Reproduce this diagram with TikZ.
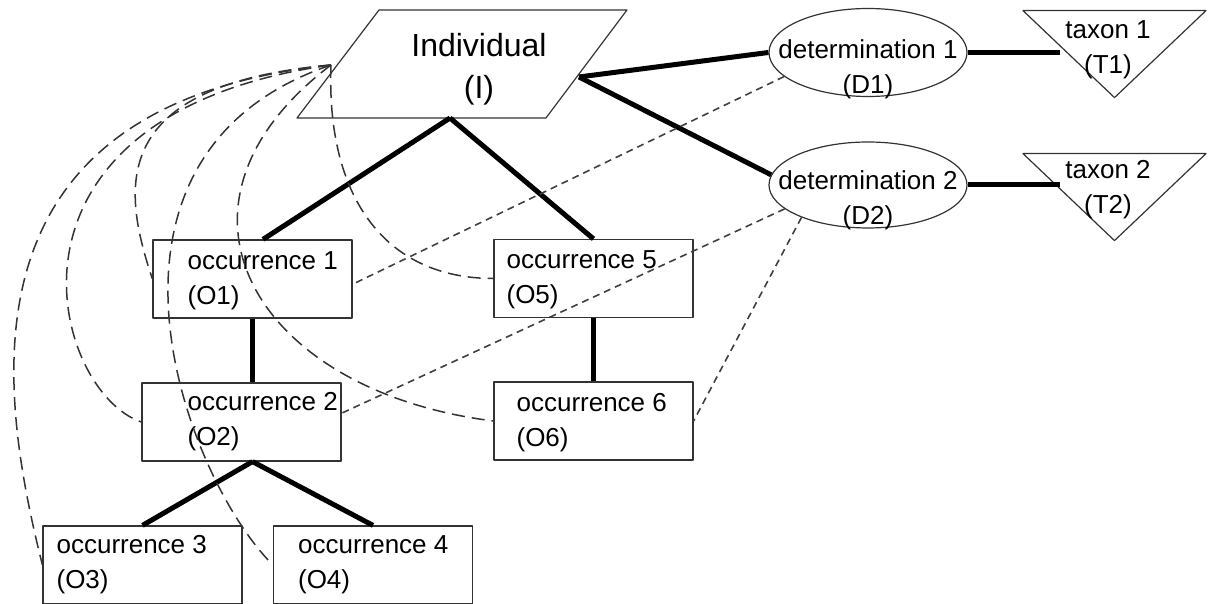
\documentclass[tikz,border=0pt]{standalone}
\usepackage{fontspec}
\setmainfont{Liberation Sans}
\usetikzlibrary{shapes.geometric}

\begin{document}
\begin{tikzpicture}[line join=round,x=1pt,y=1pt,
  outline/.style={draw=black!80,line width=1.2pt,inner sep=0pt},
  occbox/.style={outline,rectangle,minimum width=199pt,minimum height=78pt},
  detell/.style={outline,ellipse,minimum width=198pt,minimum height=88pt},
  taxtri/.style={outline,isosceles triangle,isosceles triangle stretches,shape border rotate=270,inner sep=2pt,minimum width=183pt,minimum height=87pt,anchor=north},
  txt/.style={inner sep=0pt,font=\fontsize{26}{35}\selectfont},
  ltxt/.style={txt,align=left,anchor=west},
  ctxt/.style={txt,align=center},
  tree/.style={line width=5pt},
  link/.style={draw=black!80,line width=1.5pt,dash pattern=on 13pt off 7pt},
  det/.style={draw=black!75,line width=1.6pt,dash pattern=on 7pt off 5pt}]
\useasboundingbox (0,0) rectangle (1211,604);
\draw [outline] (297,486) -- (546,486) -- (627,594) -- (379,594) -- cycle;
\coordinate (ind-s) at (450,486);
\coordinate (ind-e) at (579,527);
\coordinate (ind-w) at (331,539);
\node [txt,align=center,font=\fontsize{32}{42}\selectfont] (ind) at (479,535) {Individual\\(I)};
\node [occbox] (o1) at (252.5,325) {};
\node [occbox] (o5) at (593.5,325.5) {};
\node [occbox] (o2) at (241.5,182) {};
\node [occbox] (o6) at (593.5,183) {};
\node [occbox] (o3) at (142.5,39) {};
\node [occbox] (o4) at (373,39) {};
\node [ltxt] (o1t) at ([xshift=35pt,yshift=-1.5pt]o1.west) {occurrence 1\\(O1)};
\node [ltxt] (o5t) at ([xshift=13pt,yshift=-1pt]o5.west) {occurrence 5\\(O5)};
\node [ltxt] (o2t) at ([xshift=46pt]o2.west) {occurrence 2\\(O2)};
\node [ltxt] (o6t) at ([xshift=23pt,yshift=-1.5pt]o6.west) {occurrence 6\\(O6)};
\node [ltxt] (o3t) at ([xshift=14pt]o3.west) {occurrence 3\\(O3)};
\node [ltxt] (o4t) at ([xshift=25pt]o4.west) {occurrence 4\\(O4)};
\node [detell] (d1) at (868,551.5) {};
\node [detell,minimum height=86pt] (d2) at (868,419) {};
\node [ctxt] (d1t) at (868,534.5) {determination 1\\(D1)};
\node [ctxt] (d2t) at (868,403.5) {determination 2\\(D2)};
\node [taxtri] (t1) at (1114.5,594) {};
\node [taxtri] (t2) at (1114.5,451) {};
\node [ctxt] (t1t) at (1108,554.5) {taxon 1\\(T1)};
\node [ctxt] (t2t) at (1108,414) {taxon 2\\(T2)};
\draw [tree] (ind-s) -- ([xshift=10.5pt]o1.north);
\draw [tree] (ind-s) -- (o5.north);
\draw [tree] (o1.south) -- (o1.south |- o2.north);
\draw [tree] (o1.south |- o2.south) -- (o3.north);
\draw [tree] (o1.south |- o2.south) -- (o4.north);
\draw [tree] (o5.south) -- (o6.north);
\draw [tree] (ind-e) -- (d1.west);
\draw [tree] (ind-e) -- (d2.174);
\draw [tree] (d1.east) -- (d1.east -| t1.west);
\draw [tree] (d2.east) -- (d2.east -| t2.west);
\draw [link] (ind-w) .. controls +(-225,-20) and +(-30,90) .. (o1.west);
\draw [link] (ind-w) .. controls +(-355,-50) and +(-90,30) .. (o2.west);
\draw [link] (ind-w) .. controls +(-375,-40) and +(-45,180) .. (o3.west);
\draw [link] (ind-w) .. controls +(-265,-90) and +(-90,90) .. (o4.west);
\draw [link] (ind-w) .. controls +(-5,-130) and +(-110,0) .. (o5.west);
\draw [link] (ind-w) .. controls +(-185,-140) and +(-240,30) .. (o6.west);
\draw [det] (d1.196) -- (o1.-3);
\draw [det] (d2.196) -- (o2.5);
\draw [det] (d2.206) -- (o6.east);
\end{tikzpicture}
\end{document}
